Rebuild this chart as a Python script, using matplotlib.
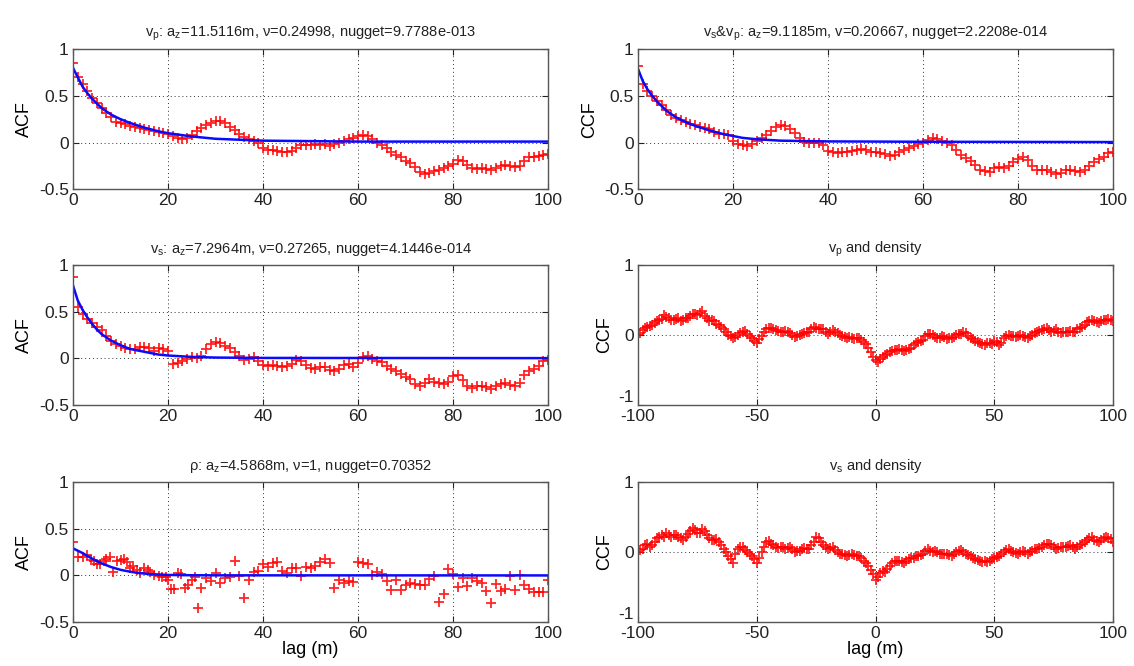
import numpy as np
import matplotlib
matplotlib.use('Agg')
from matplotlib import pyplot as plt

plt.rcParams['font.family'] = ['Liberation Sans', 'DejaVu Sans']
plt.rcParams['mathtext.default'] = 'regular'

# ---- v_p ACF (top left) ----
lag_1m = np.arange(0, 101)
vp_acf = [0.85, 0.70, 0.63, 0.55, 0.48, 0.42, 0.37, 0.32, 0.27, 0.22,
          0.21, 0.20, 0.18, 0.17, 0.16, 0.14, 0.13, 0.12, 0.11, 0.10,
          0.09, 0.07, 0.05, 0.04, 0.05, 0.08, 0.12, 0.16, 0.19, 0.21,
          0.23, 0.23, 0.21, 0.17, 0.13, 0.09, 0.06, 0.04, 0.02, 0.00,
          -0.06, -0.08, -0.08, -0.09, -0.10, -0.10, -0.09, -0.06, -0.03, -0.03,
          -0.03, -0.02, -0.03, -0.02, -0.04, -0.02, 0.00, 0.02, 0.04, 0.05,
          0.07, 0.08, 0.07, 0.04, 0.00, -0.03, -0.06, -0.10, -0.13, -0.16,
          -0.20, -0.22, -0.26, -0.32, -0.34, -0.33, -0.31, -0.29, -0.27, -0.25,
          -0.23, -0.19, -0.20, -0.24, -0.27, -0.28, -0.27, -0.28, -0.29, -0.27,
          -0.25, -0.24, -0.25, -0.26, -0.25, -0.20, -0.16, -0.15, -0.14, -0.13,
          -0.12]
fit_lag_vp = [0, 1, 2, 3, 4, 5, 6, 8, 10, 12, 15, 18, 20, 25, 30, 35, 40, 50, 60, 80, 100]
vp_fit = [0.80, 0.70, 0.60, 0.53, 0.47, 0.42, 0.37, 0.30, 0.25, 0.21, 0.16, 0.12,
          0.10, 0.065, 0.04, 0.03, 0.02, 0.015, 0.01, 0.01, 0.01]

# ---- v_s & v_p CCF (top right) ----
vsvp_ccf = [0.82, 0.63, 0.55, 0.50, 0.45, 0.40, 0.35, 0.30, 0.26, 0.24,
            0.22, 0.20, 0.19, 0.17, 0.16, 0.14, 0.11, 0.09, 0.09, 0.08,
            0.02, -0.02, -0.03, -0.04, -0.02, 0.02, 0.05, 0.08, 0.12, 0.17,
            0.19, 0.18, 0.14, 0.10, 0.05, 0.01, 0.00, -0.01, -0.01, -0.03,
            -0.09, -0.10, -0.11, -0.10, -0.10, -0.09, -0.08, -0.07, -0.08, -0.10,
            -0.10, -0.11, -0.12, -0.14, -0.13, -0.10, -0.08, -0.06, -0.04, -0.02,
            0.00, 0.03, 0.05, 0.04, 0.02, -0.01, -0.03, -0.08, -0.13, -0.17,
            -0.20, -0.24, -0.29, -0.31, -0.32, -0.27, -0.26, -0.27, -0.25, -0.21,
            -0.18, -0.16, -0.19, -0.25, -0.29, -0.30, -0.30, -0.32, -0.34, -0.33,
            -0.30, -0.29, -0.31, -0.32, -0.30, -0.25, -0.21, -0.18, -0.15, -0.11,
            -0.10]
fit_lag_vsvp = [0, 1, 2, 3, 4, 5, 6, 8, 10, 12, 15, 18, 20, 22, 25, 30, 40, 60, 100]
vsvp_fit = [0.79, 0.66, 0.57, 0.50, 0.44, 0.39, 0.34, 0.27, 0.22, 0.18, 0.13, 0.09,
            0.07, 0.05, 0.035, 0.02, 0.012, 0.008, 0.005]

# ---- v_s ACF (middle left) ----
vs_acf = [0.87, 0.55, 0.47, 0.42, 0.38, 0.34, 0.30, 0.24, 0.19, 0.15,
          0.13, 0.11, 0.10, 0.10, 0.12, 0.12, 0.11, 0.08, 0.11, 0.10,
          0.08, -0.06, -0.05, -0.03, -0.01, 0.01, 0.00, 0.03, 0.10, 0.15,
          0.17, 0.16, 0.13, 0.11, 0.07, 0.02, -0.02, -0.01, 0.01, -0.03,
          -0.07, -0.08, -0.07, -0.08, -0.09, -0.08, -0.06, -0.02, -0.03, -0.07,
          -0.10, -0.11, -0.09, -0.09, -0.13, -0.14, -0.12, -0.07, -0.06, -0.09,
          -0.05, 0.01, 0.02, -0.01, -0.03, -0.04, -0.08, -0.12, -0.14, -0.17,
          -0.20, -0.22, -0.28, -0.30, -0.27, -0.22, -0.25, -0.27, -0.28, -0.25,
          -0.19, -0.18, -0.23, -0.30, -0.32, -0.30, -0.30, -0.31, -0.33, -0.30,
          -0.28, -0.26, -0.29, -0.30, -0.27, -0.18, -0.14, -0.12, -0.08, -0.03,
          -0.02]
fit_lag_vs = [0, 1, 2, 3, 4, 5, 6, 8, 10, 12, 15, 18, 20, 25, 30, 40, 100]
vs_fit = [0.78, 0.62, 0.52, 0.44, 0.37, 0.31, 0.26, 0.19, 0.14, 0.10, 0.07, 0.04,
          0.03, 0.015, 0.008, 0.004, 0.002]

# ---- rho ACF (bottom left) ----
rho_lag = [0, 1, 2, 3, 3.7, 4.5, 5, 5.7, 6.5, 7, 7.8, 8.5, 9.3, 10, 10.7, 11.3,
           12, 12.7, 13.5, 14, 15, 15.7, 16.3, 17, 18, 18.7, 19.5, 20, 20.6, 21.3,
           22, 22.8, 23.5, 24.2, 25, 25.7, 26.3, 27, 28, 29, 30, 31, 32, 33, 34,
           35, 36, 37, 38, 39, 40, 41, 42, 43, 44, 45, 46, 47, 48, 49, 50, 51, 52,
           53, 54, 55, 56, 57, 58, 59, 60, 61, 62, 63, 64, 65, 66, 67, 68, 69, 70,
           71, 72, 73, 74, 75, 76, 77, 78, 79, 80, 81, 82, 83, 84, 85, 86, 87, 88,
           89, 90, 91, 92, 93, 94, 95, 96, 97, 98, 99, 100]
rho_acf = [0.36, 0.20, 0.20, 0.22, 0.17, 0.16, 0.12, 0.12, 0.15, 0.18, 0.20, 0.04,
           0.15, 0.17, 0.18, 0.14, 0.08, 0.10, 0.06, 0.03, 0.08, 0.06, 0.04, 0.00,
           -0.01, -0.02, -0.02, -0.05, -0.15, -0.15, 0.03, 0.01, -0.13, -0.10,
           -0.05, -0.02, -0.35, -0.13, -0.03, -0.06, 0.03, -0.08, -0.03, -0.02,
           0.15, -0.01, -0.24, -0.05, 0.04, 0.05, 0.12, 0.09, 0.13, 0.14, 0.05,
           0.03, 0.08, 0.08, -0.01, 0.09, 0.08, 0.10, 0.14, 0.18, 0.13, -0.14,
           -0.05, -0.08, -0.06, -0.07, 0.14, 0.13, 0.12, 0.00, 0.04, 0.02, -0.06,
           -0.16, -0.05, -0.16, -0.10, -0.08, -0.09, -0.10, -0.10, -0.04, -0.01,
           -0.28, -0.20, 0.07, 0.02, -0.12, -0.03, -0.11, -0.03, -0.06, -0.08,
           -0.17, -0.30, -0.09, -0.17, -0.15, -0.01, -0.16, 0.00, -0.10, -0.15,
           -0.18, -0.18, -0.18, -0.05]
fit_lag_rho = [0, 2, 4, 6, 8, 10, 12, 14, 16, 18, 20, 25, 30, 100]
rho_fit = [0.29, 0.24, 0.18, 0.13, 0.09, 0.06, 0.04, 0.025, 0.015, 0.01, 0.005,
           0.002, 0.001, 0.0]

# ---- cross correlations with density (right column), lag -100..100 ----
lag_ccf = np.arange(-100, 101)
vp_rho_ccf = [0.00, 0.03, 0.07, 0.10, 0.12, 0.13, 0.15, 0.17, 0.20, 0.21,
              0.23, 0.28, 0.26, 0.24, 0.22, 0.21, 0.23, 0.24, 0.20, 0.22,
              0.25, 0.24, 0.27, 0.30, 0.30, 0.28, 0.32, 0.34, 0.27, 0.24,
              0.20, 0.22, 0.20, 0.16, 0.15, 0.12, 0.08, 0.04, 0.00, -0.02,
              -0.05, -0.03, 0.00, 0.03, 0.05, 0.06, 0.02, -0.02, -0.05, -0.09,
              -0.12, -0.06, -0.02, 0.05, 0.08, 0.10, 0.10, 0.08, 0.07, 0.06,
              0.05, 0.04, 0.06, 0.05, 0.03, 0.00, -0.03, -0.02, 0.00, 0.02,
              0.03, 0.04, 0.05, 0.08, 0.12, 0.10, 0.08, 0.09, 0.08, 0.05,
              0.02, 0.04, 0.07, 0.05, 0.03, 0.00, -0.02, -0.03, -0.04, -0.03,
              -0.05, -0.06, -0.05, -0.04, -0.07, -0.10, -0.13, -0.18, -0.25, -0.32,
              -0.36, -0.38, -0.35, -0.31, -0.28, -0.27, -0.25, -0.23, -0.22, -0.21,
              -0.20, -0.22, -0.23, -0.21, -0.20, -0.18, -0.15, -0.12, -0.10, -0.09,
              -0.07, -0.02, 0.02, 0.01, 0.00, -0.03, -0.05, -0.04, -0.02, -0.03,
              -0.06, -0.05, -0.05, -0.03, 0.00, 0.01, 0.02, 0.04, 0.03, -0.01,
              -0.05, -0.06, -0.08, -0.10, -0.12, -0.13, -0.14, -0.11, -0.12, -0.13,
              -0.08, -0.10, -0.15, -0.12, -0.05, -0.02, 0.00, -0.01, -0.02, -0.03,
              -0.02, 0.00, -0.01, -0.03, -0.05, -0.02, 0.00, 0.03, 0.05, 0.06,
              0.07, 0.09, 0.10, 0.07, 0.05, 0.06, 0.08, 0.05, 0.03, 0.04,
              0.05, 0.05, 0.06, 0.04, 0.05, 0.08, 0.10, 0.12, 0.15, 0.18,
              0.20, 0.22, 0.20, 0.18, 0.17, 0.20, 0.22, 0.21, 0.23, 0.22,
              0.20]
vs_rho_ccf = [0.00, 0.03, 0.05, 0.10, 0.12, 0.08, 0.10, 0.15, 0.20, 0.22,
              0.25, 0.22, 0.27, 0.25, 0.22, 0.24, 0.25, 0.22, 0.20, 0.18,
              0.22, 0.26, 0.30, 0.34, 0.32, 0.27, 0.28, 0.33, 0.30, 0.24,
              0.20, 0.17, 0.18, 0.19, 0.15, 0.10, 0.05, 0.00, -0.05, -0.10,
              -0.15, -0.03, 0.05, 0.07, 0.08, 0.03, 0.00, -0.02, -0.05, -0.10,
              -0.15, -0.08, 0.00, 0.08, 0.15, 0.16, 0.12, 0.10, 0.08, 0.06,
              0.08, 0.07, 0.05, 0.06, 0.08, 0.04, 0.00, 0.01, 0.02, 0.04,
              0.06, 0.04, 0.05, 0.10, 0.15, 0.22, 0.20, 0.14, 0.10, 0.07,
              0.05, 0.06, 0.07, 0.03, 0.00, -0.02, -0.03, -0.04, -0.05, -0.04,
              -0.03, -0.04, -0.05, -0.06, -0.08, -0.12, -0.15, -0.20, -0.25, -0.32,
              -0.40, -0.35, -0.30, -0.27, -0.28, -0.24, -0.20, -0.15, -0.12, -0.12,
              -0.13, -0.14, -0.15, -0.12, -0.10, -0.09, -0.08, -0.06, -0.05, -0.04,
              -0.03, 0.02, 0.05, 0.02, 0.00, 0.01, 0.00, -0.02, -0.03, -0.03,
              -0.02, -0.04, -0.05, -0.02, 0.00, 0.02, 0.03, 0.00, -0.02, -0.04,
              -0.05, -0.08, -0.10, -0.11, -0.12, -0.14, -0.13, -0.14, -0.12, -0.10,
              -0.08, -0.07, -0.05, -0.02, 0.00, 0.03, 0.05, 0.02, 0.00, -0.01,
              -0.02, 0.00, 0.02, 0.00, -0.02, 0.00, 0.02, 0.04, 0.05, 0.06,
              0.08, 0.10, 0.12, 0.11, 0.10, 0.07, 0.05, 0.06, 0.08, 0.07,
              0.08, 0.09, 0.10, 0.07, 0.05, 0.08, 0.10, 0.12, 0.15, 0.18,
              0.20, 0.21, 0.18, 0.16, 0.15, 0.18, 0.20, 0.22, 0.20, 0.19,
              0.15]

acf_ticks = [-0.5, 0, 0.5, 1]
acf_ticklabels = ['-0.5', '0', '0.5', '1']
ccf_ticks = [-1, 0, 1]
ccf_ticklabels = ['-1', '0', '1']

titles = [
  r'v$_p$: a$_z$=11.5116m, ν=0.24998, nugget=9.7788e-013',
  r'v$_s$&v$_p$: a$_z$=9.1185m, v=0.20667, nugget=2.2208e-014',
  r'v$_s$: a$_z$=7.2964m, ν=0.27265, nugget=4.1446e-014',
  r'v$_p$ and density',
  r'ρ: a$_z$=4.5868m, ν=1, nugget=0.70352',
  r'v$_s$ and density',
]

fig = plt.figure(figsize=(11.34, 6.66), dpi=100)
col_left = [0.0644, 0.5626]
row_bottom = [0.716, 0.392, 0.066]
ax_w = 0.419
ax_h = 0.21

def style_axes(ax, xlim, xticks, yticks, yticklabels):
  ax.set_xlim(xlim)
  ax.set_ylim(yticks[0], yticks[-1])
  ax.set_xticks(xticks)
  ax.set_xticklabels([str(t) for t in xticks])
  ax.set_yticks(yticks)
  ax.set_yticklabels(yticklabels)
  ax.tick_params(direction='in', length=4, width=0.8, labelsize=12.5, colors='#222222',
                 top=True, right=True, pad=3)
  ax.grid(True, color='#333333', linestyle=(0, (1, 3)), linewidth=0.7)
  for s in ax.spines.values():
    s.set_color('#555555')
    s.set_linewidth(1.0)

red = dict(linestyle='none', marker='+', color='red', markersize=6.5, mew=1.3, alpha=0.85)
blue = dict(color='#0a0aff', linewidth=1.8)

axes = []
for r in range(3):
  for c in range(2):
    axes.append(fig.add_axes([col_left[c], row_bottom[r], ax_w, ax_h]))

x_acf = [0, 20, 40, 60, 80, 100]
x_ccf = [-100, -50, 0, 50, 100]

# top left
ax = axes[0]
ax.plot(lag_1m, vp_acf, **red)
ax.plot(fit_lag_vp, vp_fit, **blue)
style_axes(ax, (0, 100), x_acf, acf_ticks, acf_ticklabels)
ax.set_ylabel('ACF', fontsize=13)

# top right
ax = axes[1]
ax.plot(lag_1m, vsvp_ccf, **red)
ax.plot(fit_lag_vsvp, vsvp_fit, **blue)
style_axes(ax, (0, 100), x_acf, acf_ticks, acf_ticklabels)
ax.set_ylabel('CCF', fontsize=13)

# middle left
ax = axes[2]
ax.plot(lag_1m, vs_acf, **red)
ax.plot(fit_lag_vs, vs_fit, **blue)
style_axes(ax, (0, 100), x_acf, acf_ticks, acf_ticklabels)
ax.set_ylabel('ACF', fontsize=13)

# middle right
ax = axes[3]
ax.plot(lag_ccf, vp_rho_ccf, **red)
style_axes(ax, (-100, 100), x_ccf, ccf_ticks, ccf_ticklabels)
ax.set_ylabel('CCF', fontsize=13)

# bottom left
ax = axes[4]
ax.plot(rho_lag, rho_acf, **red)
ax.plot(fit_lag_rho, rho_fit, **blue)
style_axes(ax, (0, 100), x_acf, acf_ticks, acf_ticklabels)
ax.set_ylabel('ACF', fontsize=13)
ax.set_xlabel('lag (m)', fontsize=13, labelpad=0)

# bottom right
ax = axes[5]
ax.plot(lag_ccf, vs_rho_ccf, **red)
style_axes(ax, (-100, 100), x_ccf, ccf_ticks, ccf_ticklabels)
ax.set_ylabel('CCF', fontsize=13)
ax.set_xlabel('lag (m)', fontsize=13, labelpad=0)

# lift the "-1" label a bit so it clears the "-100" below it
for ax in (axes[3], axes[5]):
  ax.get_yticklabels()[0].set_verticalalignment('bottom')

for ax, t in zip(axes, titles):
  ax.set_title(t, fontsize=10.5, pad=9, color='#222222')

plt.savefig('out.png', dpi=100)
